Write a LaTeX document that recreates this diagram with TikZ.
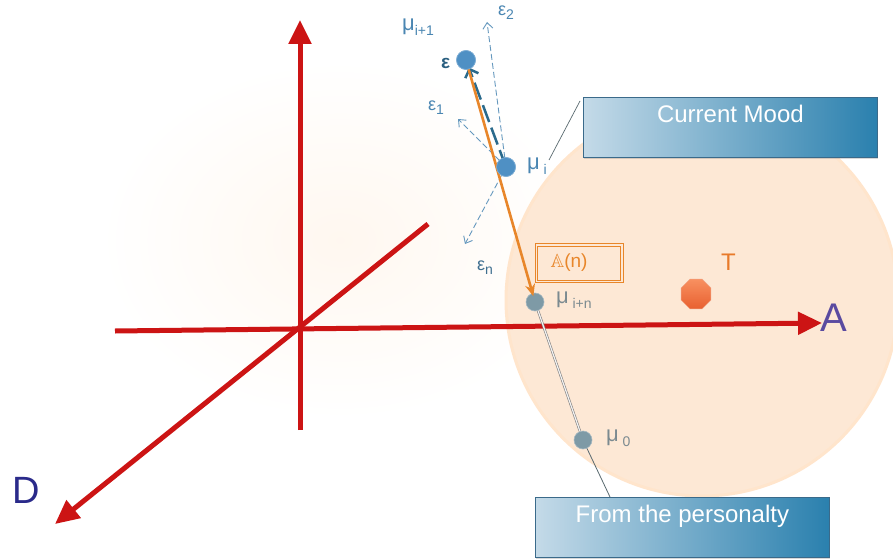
\documentclass[tikz,border=0pt]{standalone}
\usepackage{fontspec}
\setmainfont{Liberation Sans}
\usepackage{amssymb}
\usetikzlibrary{arrows.meta,shapes.geometric,shadows}
\definecolor{axred}{HTML}{CC1414}
\definecolor{peach}{HTML}{FDE8D5}
\definecolor{orng}{HTML}{E8862A}
\definecolor{ptblue}{HTML}{4F90C4}
\definecolor{ptgrey}{HTML}{7E9AA6}
\definecolor{lblue}{HTML}{4A86B2}
\definecolor{lgrey}{HTML}{7B8A90}
\definecolor{boxl}{HTML}{C4DAE8}
\definecolor{boxr}{HTML}{2A80AE}
\definecolor{boxedge}{HTML}{3A6A8A}
\definecolor{alabc}{HTML}{5A4AA0}
\definecolor{dlabc}{HTML}{2A2A8A}
\definecolor{octtop}{HTML}{F89060}
\definecolor{octbot}{HTML}{E86030}
\definecolor{octedge}{HTML}{F0A080}
\definecolor{leader}{HTML}{5A6A70}
\definecolor{darkarr}{HTML}{2A6A8C}
\definecolor{epsdark}{HTML}{2A5F80}
\definecolor{epsn}{HTML}{3F6F90}
\definecolor{tlab}{HTML}{E87A2A}
\newcommand{\mysub}[1]{\raisebox{-0.45ex}{\fontsize{14}{14}\selectfont #1}}
\begin{document}
\begin{tikzpicture}[x=1pt,y=-1pt,
  axis/.style={draw=axred,line width=5pt,-{Triangle[length=24pt,width=22pt]}},
  infobox/.style={draw=boxedge,line width=0.8pt,left color=boxl,right color=boxr,
     minimum width=294pt,minimum height=60pt,inner sep=0pt,anchor=north west,
     text=white,font=\fontsize{24}{24}\selectfont,text depth=28pt,
     drop shadow={shadow xshift=1pt,shadow yshift=-2pt,opacity=0.3}},
  ptb/.style={circle,fill=ptblue,draw=ptblue!70!white,line width=0.6pt,minimum size=19pt,inner sep=0pt},
  ptg/.style={circle,fill=ptgrey,draw=ptgrey!70!white,line width=0.6pt,minimum size=18pt,inner sep=0pt},
  lbl/.style={inner sep=0pt,anchor=west},
  epsarrow/.style={draw=lblue!85!white,dash pattern=on 6pt off 3pt,line width=0.9pt,-{Straight Barb[length=6pt,width=10pt]}}
]
\useasboundingbox (0,0) rectangle (893,559);
\fill[white] (0,0) rectangle (893,559);
% faint glow
\shade[inner color=orange!6,outer color=white] (340,240) ellipse [x radius=240,y radius=180];
% circle
\fill[peach] (702,300) circle [radius=196];
\draw[white!80!orange,line width=3pt] (702,300) circle [radius=196];
% axes
\coordinate (vb) at (300,430); \coordinate (vt) at (300,20);
\coordinate (hl) at (115,331); \coordinate (hr) at (822,323);
\coordinate (db) at (428,224); \coordinate (dt) at (55,524);
\draw[axis] (vb) -- (vt);
\draw[axis] (hl) -- (hr);
\draw[axis] (db) -- (dt);
\node[lbl,text=alabc,font=\fontsize{40}{40}\selectfont] (Alab) at (820,318) {A};
\node[lbl,text=dlabc,font=\fontsize{38}{38}\selectfont] (Dlab) at (12,490) {D};
% boxes
\node[infobox] (cm) at (583,97) {Current Mood};
\node[infobox] (fp) at (535,497) {From the personalty};
% points
\node[ptb] (p1) at (466,60) {};
\node[ptb] (pi) at (506,167) {};
\node[ptg] (pn) at (535,302) {};
\node[ptg] (p0) at (583,440) {};
\node[regular polygon,regular polygon sides=8,minimum size=32pt,inner sep=0pt,
   top color=octtop,bottom color=octbot,draw=octedge,line width=0.5pt] (T) at (696,294) {};
% leader lines
\coordinate (cmend) at (549,160);
\coordinate (cmstart) at (580,101);
\draw[leader,line width=0.7pt] (cmstart) -- (cmend);
\draw[draw=gray,double=white!90!gray,double distance=1.2pt,line width=0.6pt] (pn) -- (p0);
\coordinate (fptop) at (610,497);
\draw[leader,line width=0.8pt] (p0) -- (fptop);
% epsilon arrows
\coordinate (e2) at (487,22);
\coordinate (e1) at (458,119);
\coordinate (en) at (465,244);
\draw[epsarrow] (pi.center) -- (e2);
\draw[epsarrow] (pi.center) -- (e1);
\draw[epsarrow] (pi.center) -- (en);
\draw[draw=darkarr,line width=2.5pt,dash pattern=on 18pt off 6pt,-{Straight Barb[length=7pt,width=14pt,line width=2.5pt]},shorten >=8pt] (pi.center) -- (p1.center);
\draw[draw=orng,line width=2.6pt,-{Stealth[length=12pt,width=10pt]},shorten >=6pt] (p1.center) -- (pn.center);
\node[ptb] at (p1) {};
\node[ptb] at (pi) {};
% labels
\node[lbl,text=lblue,font=\fontsize{22}{22}\selectfont] (l1) at (402,27) {μ\mysub{i+1}};
\node[lbl,text=lblue,font=\fontsize{18}{18}\selectfont] (le2) at (498,13) {ε\mysub{2}};
\node[lbl,text=lblue,font=\fontsize{18}{18}\selectfont] (le1) at (428,108) {ε\mysub{1}};
\node[lbl,text=epsdark,font=\bfseries\fontsize{19}{19}\selectfont] (le) at (441,63) {ε};
\node[lbl,text=lblue,font=\fontsize{22}{22}\selectfont] (li) at (527,166) {μ\,\mysub{i}};
\node[lbl,text=epsn,font=\fontsize{18}{18}\selectfont] (len) at (477,268) {ε\mysub{n}};
\node[lbl,text=lgrey,font=\fontsize{22}{22}\selectfont] (lin) at (556,300) {μ\,\mysub{i+n}};
\node[lbl,text=lgrey,font=\fontsize{22}{22}\selectfont] (l0) at (606,438) {μ\,\mysub{0}};
\node[draw=orng,line width=1pt,minimum width=88pt,minimum height=39pt,
   text=orng,font=\fontsize{19}{19}\selectfont,inner sep=0pt,anchor=center] (An) at (579,263) {\kern-20pt$\mathbb{A}$(n)};
\draw[orng,line width=1pt] ([shift={(3pt,3pt)}]An.south west) rectangle ([shift={(-3pt,-3pt)}]An.north east);
\node[lbl,text=tlab,font=\fontsize{24}{24}\selectfont] (Tl) at (721,262) {T};
\end{tikzpicture}
\end{document}
